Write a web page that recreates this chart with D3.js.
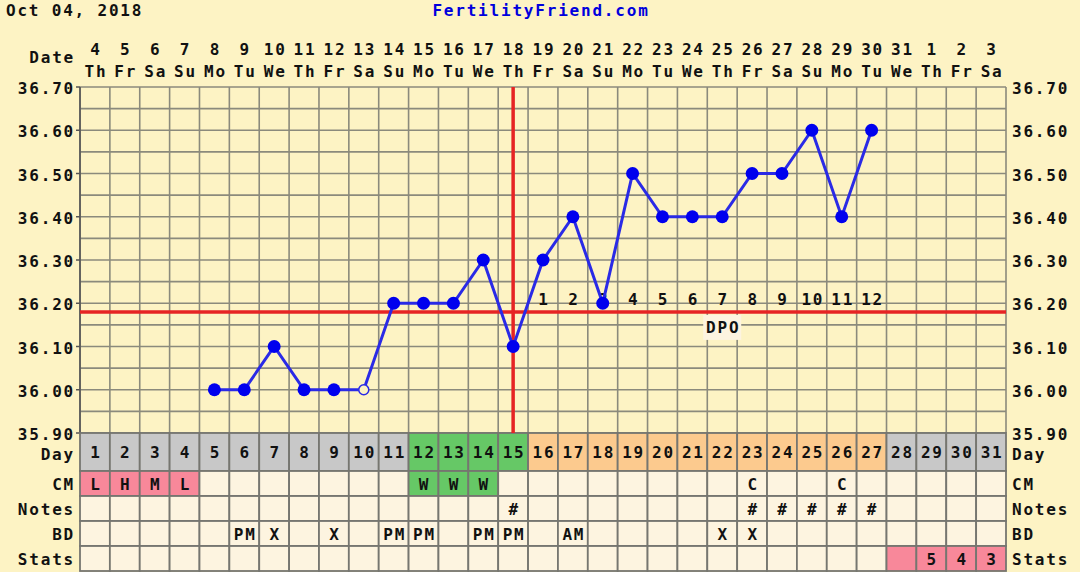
<!DOCTYPE html>
<html><head><meta charset="utf-8">
<script src="https://cdn.jsdelivr.net/npm/d3@7"></script>
<style>
html,body{margin:0;padding:0;background:#fdf3c4;}
text{font-family:"DejaVu Sans Mono",monospace;font-weight:bold;font-size:16px;letter-spacing:1.8px;fill:#111;}
</style></head>
<body>
<svg id="c" width="1080" height="572"></svg>
<script>
const headerDate = "Oct 04, 2018";
const siteName = "FertilityFriend.com";
const cycleDays = ["1","2","3","4","5","6","7","8","9","10","11","12","13","14","15","16","17","18","19","20","21","22","23","24","25","26","27","28","29","30","31"];
const dateLabels = ["4","5","6","7","8","9","10","11","12","13","14","15","16","17","18","19","20","21","22","23","24","25","26","27","28","29","30","31","1","2","3"];
const weekdays = ["Th","Fr","Sa","Su","Mo","Tu","We","Th","Fr","Sa","Su","Mo","Tu","We","Th","Fr","Sa","Su","Mo","Tu","We","Th","Fr","Sa","Su","Mo","Tu","We","Th","Fr","Sa"];
const temps = [null,null,null,null,36.00,36.00,36.10,36.00,36.00,36.00,36.20,36.20,36.20,36.30,36.10,36.30,36.40,36.20,36.50,36.40,36.40,36.40,36.50,36.50,36.60,36.40,36.60,null,null,null,null];
const openPoints = ["10"];
const coverline = 36.18;
const ovulationDay = "15";
const dpoLabels = ["","","","","","","","","","","","","","","","1","2","3","4","5","6","7","8","9","10","11","12","","","",""];
const dpoTitleDay = "22";
const phase = ["gray","gray","gray","gray","gray","gray","gray","gray","gray","gray","gray","green","green","green","green","orange","orange","orange","orange","orange","orange","orange","orange","orange","orange","orange","orange","gray","gray","gray","gray"];
const cmValues = ["L","H","M","L","","","","","","","","W","W","W","","","","","","","","","C","","","C","","","","",""];
const cmPhase = ["pink","pink","pink","pink","","","","","","","","green","green","green","","","","","","","","","","","","","","","","",""];
const notesValues = ["","","","","","","","","","","","","","","#","","","","","","","","#","#","#","#","#","","","",""];
const bdValues = ["","","","","","PM","X","","X","","PM","PM","","PM","PM","","AM","","","","","X","X","","","","","","","",""];
const statsValues = ["","","","","","","","","","","","","","","","","","","","","","","","","","","","","5","4","3"];
const statsPhase = ["","","","","","","","","","","","","","","","","","","","","","","","","","","","pink","pink","pink","pink"];
const rowLabels = ["Day","CM","Notes","BD","Stats"];
const yRange = [35.90, 36.70];

const colors = {gray:"#c8c8c8", green:"#66c866", orange:"#fcca8e", pink:"#f8889a", cell:"#fdf4e0", "":"#fdf4e0"};

const svg = d3.select("#c");
const L = 80, R = 1006, T = 87, B = 433;
const x = d3.scaleBand().domain(cycleDays).range([L, R]).padding(0);
const y = d3.scaleLinear().domain(yRange).range([B, T]);
const cx = d => x(d) + x.bandwidth()/2;

// header
svg.append("text").attr("x", 6).attr("y", 16).text(headerDate);
svg.append("text").attr("x", 541).attr("y", 16).attr("text-anchor","middle").style("fill","#0000dd").text(siteName);

// date labels
svg.append("text").attr("x", 75).attr("y", 63).attr("text-anchor","end").text("Date");
svg.append("g").selectAll("text.d").data(cycleDays).join("text")
  .attr("x", d => cx(d)+1).attr("y", 55).attr("text-anchor","middle").text((d,i)=>dateLabels[i]);
svg.append("g").selectAll("text.w").data(cycleDays).join("text")
  .attr("x", d => cx(d)+1).attr("y", 77).attr("text-anchor","middle").text((d,i)=>weekdays[i]);

// plot grid
const grid = svg.append("g").attr("stroke","#8b8a7c").attr("stroke-width",1.6);
y.ticks(16).forEach(t => {
  grid.append("line").attr("x1",L).attr("x2",R).attr("y1",y(t)).attr("y2",y(t));
});
cycleDays.forEach(d => grid.append("line").attr("x1",x(d)).attr("x2",x(d)).attr("y1",T).attr("y2",B));
grid.append("line").attr("x1",R).attr("x2",R).attr("y1",T).attr("y2",B);
grid.append("line").attr("x1",L).attr("x2",L).attr("y1",T).attr("y2",B).attr("stroke","#555");

// y labels and ticks
const fmt = d3.format(".2f");
y.ticks(8).forEach(t => {
  svg.append("line").attr("x1",76).attr("x2",L).attr("y1",y(t)).attr("y2",y(t)).attr("stroke","#555").attr("stroke-width",1.5);
  svg.append("text").attr("x",75).attr("y",y(t)+7).attr("text-anchor","end").text(fmt(t));
  svg.append("text").attr("x",1012).attr("y",y(t)+7).text(fmt(t));
});

// table
const rowTops = [433, 471, 496, 521, 546];
const rowHs = [38, 25, 25, 25, 25];
const labelY = [460, 490, 515, 540, 565];
const table = svg.append("g");
const rowsData = [
  {vals: cycleDays, fills: phase},
  {vals: cmValues, fills: cmPhase},
  {vals: notesValues, fills: cycleDays.map(()=> "")},
  {vals: bdValues, fills: cycleDays.map(()=> "")},
  {vals: statsValues, fills: statsPhase}
];
rowsData.forEach((row, r) => {
  table.selectAll(null).data(cycleDays).join("rect")
    .attr("x", d => x(d)).attr("y", rowTops[r]).attr("width", x.bandwidth()).attr("height", rowHs[r])
    .attr("fill", (d,i) => colors[row.fills[i]]).attr("stroke","#767670").attr("stroke-width",1.8);
  table.selectAll(null).data(cycleDays).join("text")
    .attr("x", d => cx(d)+1).attr("y", rowTops[r] + rowHs[r]/2 + 6).attr("text-anchor","middle")
    .text((d,i) => row.vals[i]);
  svg.append("text").attr("x",75).attr("y", labelY[r]).attr("text-anchor","end").text(rowLabels[r]);
  svg.append("text").attr("x",1012).attr("y", labelY[r]).text(rowLabels[r]);
});

// DPO label box
const dpoBox = svg.append("g");
dpoBox.append("rect").attr("x", cx(dpoTitleDay)-19).attr("y", y(coverline)+3).attr("width",38).attr("height",25).attr("fill","#fdf4e0");
dpoBox.append("text").attr("x", cx(dpoTitleDay)+1).attr("y", y(coverline)+21).attr("text-anchor","middle").text("DPO");

// red lines
svg.append("line").attr("x1",L).attr("x2",R).attr("y1",y(coverline)).attr("y2",y(coverline)).attr("stroke","#e62424").attr("stroke-width",3.5);
svg.append("line").attr("x1",cx(ovulationDay)).attr("x2",cx(ovulationDay)).attr("y1",T).attr("y2",B).attr("stroke","#e62424").attr("stroke-width",3.5);

// DPO numbers
svg.append("g").selectAll("text").data(cycleDays).join("text")
  .attr("x", d => cx(d)+1).attr("y", y(coverline)-7).attr("text-anchor","middle").text((d,i)=>dpoLabels[i]);

// temperature line
const pts = cycleDays.map((d,i)=>({d, t: temps[i]})).filter(p => p.t !== null);
const line = d3.line().x(p => cx(p.d)).y(p => y(p.t));
svg.append("path").datum(pts).attr("d", line).attr("fill","none").attr("stroke","#2a2ae6").attr("stroke-width",3);
svg.append("g").selectAll("circle").data(pts).join("circle")
  .attr("cx", p => cx(p.d)).attr("cy", p => y(p.t))
  .attr("r", p => openPoints.includes(p.d) ? 5 : 6.5)
  .attr("fill", p => openPoints.includes(p.d) ? "#fdf3c4" : "#0000ee")
  .attr("stroke", p => openPoints.includes(p.d) ? "#2a2ae6" : "none")
  .attr("stroke-width", 1.5);
</script>
</body></html>
